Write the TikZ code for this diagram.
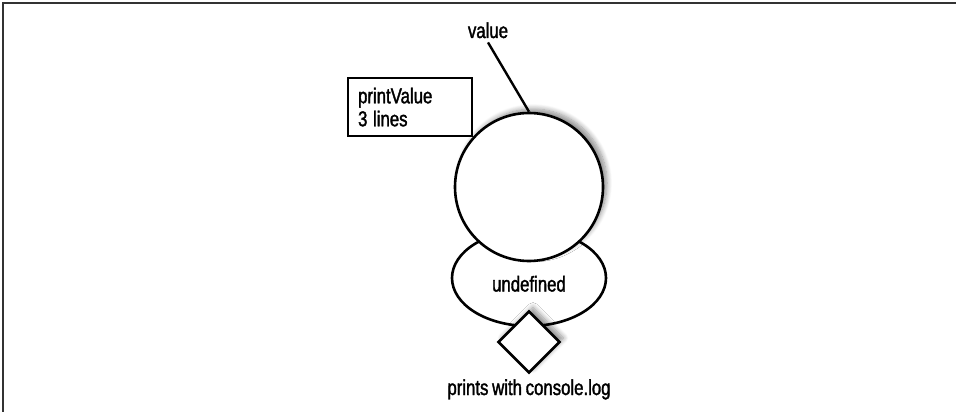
\documentclass[tikz,border=0pt]{standalone}
\usepackage{fontspec}
\setmainfont{Liberation Sans}[FakeStretch=0.78, FakeBold=1.6, WordSpace=0.8]
\usetikzlibrary{shapes.geometric,shadows.blur}
\tikzset{
  every node/.style={font=\fontsize{21.5}{23}\selectfont},
  frameline/.style={draw=black!80, line width=2pt},
  shape line/.style={draw=black, line width=2.6pt, fill=white},
  soft shadow/.style={blur shadow={shadow xshift=4pt, shadow yshift=4pt, shadow blur radius=5pt, shadow blur steps=8, shadow opacity=45}},
  lbl/.style={inner sep=0pt, anchor=base},
}
\begin{document}
\begin{tikzpicture}[x=1pt,y=-1pt]
\useasboundingbox (0,0) rectangle (956,412);
% frame
\coordinate (fc) at (3,3);
\coordinate (fr) at (956,3);
\coordinate (fb) at (3,412);
\draw[frameline] (fr) -- (fc) -- (fb);
% shapes
\node[shape line, ellipse, minimum width=154pt, minimum height=96pt, inner sep=0pt] (ell) at (529,278) {};
\node[shape line, circle, minimum size=148pt, inner sep=0pt, soft shadow] (circ) at (529,187) {};
\node[shape line, diamond, minimum width=62pt, minimum height=62pt, inner sep=0pt, soft shadow] (dia) at (529,342) {};
% labels
\node[lbl] (undef) at (529,291.5) {undefined};
\node[lbl] (prints) at (529,395) {prints with console.log};
\node[lbl] (value) at (488,38) {value};
\node[draw=black, line width=2.2pt, anchor=north west, inner xsep=10pt, inner ysep=0pt,
      text width=104pt, align=left, minimum height=58pt] (box) at (347,77) {printValue\\3\kern-1.5pt{} lines};
% connector
\draw[line width=2.4pt] ([yshift=-4pt]value.south) -- (circ.north);
\end{tikzpicture}
\end{document}
